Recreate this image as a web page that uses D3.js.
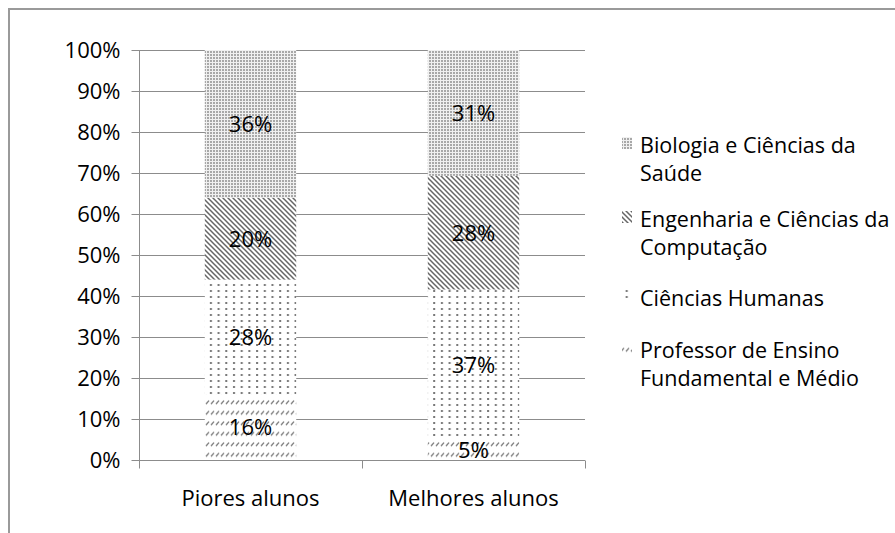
<!DOCTYPE html>
<html>
<head>
<meta charset="utf-8">
<script src="https://cdn.jsdelivr.net/npm/d3@7"></script>
<style>
  body { margin: 0; background: #fff; }
  text { font-family: "Open Sans", sans-serif; fill: #000; }
</style>
</head>
<body>
<div id="chart"></div>
<script>
var categories = ['Piores alunos', 'Melhores alunos'];
var series = ['Professor de Ensino Fundamental e Médio', 'Ciências Humanas',
              'Engenharia e Ciências da Computação', 'Biologia e Ciências da Saúde'];
var profValues = [16, 5];
var humanasValues = [28, 37];
var engValues = [20, 28];
var bioValues = [36, 31];
var yTicks = [0, 0.1, 0.2, 0.3, 0.4, 0.5, 0.6, 0.7, 0.8, 0.9, 1];

var legendLines = [
    ['Biologia e Ciências da', 'Saúde'],
    ['Engenharia e Ciências da', 'Computação'],
    ['Ciências Humanas'],
    ['Professor de Ensino', 'Fundamental e Médio']
];

var width = 895, height = 533;
var plot = { left: 139, right: 585, top: 50, bottom: 460 };

var svg = d3.select('#chart').append('svg')
    .attr('width', width)
    .attr('height', height);

// patterns
var defs = svg.append('defs');

var pBio = defs.append('pattern').attr('id', 'pat_bio')
    .attr('patternUnits', 'userSpaceOnUse').attr('width', 3).attr('height', 3);
pBio.append('rect').attr('width', 3).attr('height', 3).attr('fill', '#f0f0f0');
pBio.append('rect').attr('width', 2).attr('height', 2).attr('fill', '#a8a8a8');

var pEng = defs.append('pattern').attr('id', 'pat_eng')
    .attr('patternUnits', 'userSpaceOnUse').attr('width', 5).attr('height', 5);
pEng.append('rect').attr('width', 5).attr('height', 5).attr('fill', '#fff');
pEng.append('path').attr('d', 'M-1,-1 L6,6 M-1,4 L1,6 M4,-1 L6,1')
    .attr('stroke', '#666').attr('stroke-width', 1.5);

var pHum = defs.append('pattern').attr('id', 'pat_hum')
    .attr('patternUnits', 'userSpaceOnUse').attr('width', 7.7).attr('height', 6);
pHum.append('rect').attr('width', 7.7).attr('height', 6).attr('fill', '#fff');
pHum.append('rect').attr('x', 2).attr('y', 2).attr('width', 2).attr('height', 2).attr('fill', '#777');

var pProf = defs.append('pattern').attr('id', 'pat_prof')
    .attr('patternUnits', 'userSpaceOnUse').attr('width', 5).attr('height', 10.5);
pProf.append('rect').attr('width', 5).attr('height', 10.5).attr('fill', '#fff');
pProf.append('path').attr('d', 'M1,5 L4,1.5')
    .attr('stroke', '#777').attr('stroke-width', 1.3);

var fills = ['url(#pat_prof)', 'url(#pat_hum)', 'url(#pat_eng)', 'url(#pat_bio)'];

// outer frame (cut off at right/bottom)
svg.append('rect')
    .attr('x', 9).attr('y', 9)
    .attr('width', 1000).attr('height', 1000)
    .attr('fill', 'none').attr('stroke', '#9a9a9a').attr('stroke-width', 2);

var x = d3.scaleBand().domain(categories).range([plot.left, plot.right]).paddingInner(0.59).paddingOuter(0.295);
var y = d3.scaleLinear().domain([0, 1]).range([plot.bottom, plot.top]);

// gridlines
svg.append('g').selectAll('line').data(yTicks.slice(1)).enter().append('line')
    .attr('x1', plot.left).attr('x2', plot.right)
    .attr('y1', function(d) { return Math.round(y(d)) + 0.5; })
    .attr('y2', function(d) { return Math.round(y(d)) + 0.5; })
    .attr('stroke', '#8c8c8c').attr('stroke-width', 1);

// stacked data
var rows = categories.map(function(c, i) {
    var vals = [profValues[i], humanasValues[i], engValues[i], bioValues[i]];
    var total = d3.sum(vals);
    var row = { cat: c };
    vals.forEach(function(v, j) { row['s' + j] = v / total; row['v' + j] = v; });
    return row;
});
var stack = d3.stack().keys(['s0', 's1', 's2', 's3']);
var layers = stack(rows);

var layerG = svg.append('g').selectAll('g').data(layers).enter().append('g')
    .attr('fill', function(d, i) { return fills[i]; });

layerG.selectAll('rect').data(function(d) { return d; }).enter().append('rect')
    .attr('x', function(d) { return x(d.data.cat); })
    .attr('width', x.bandwidth())
    .attr('y', function(d) { return y(d[1]); })
    .attr('height', function(d) { return y(d[0]) - y(d[1]); });

// value labels
layers.forEach(function(layer, i) {
    svg.append('g').selectAll('text').data(layer).enter().append('text')
        .attr('x', function(d) { return x(d.data.cat) + x.bandwidth() / 2; })
        .attr('y', function(d) { return (y(d[0]) + y(d[1])) / 2; })
        .attr('dy', '0.36em')
        .attr('text-anchor', 'middle')
        .style('font-size', '22px')
        .text(function(d) { return d.data['v' + i] + '%'; });
});

// y axis
var yAxis = d3.axisLeft(y).tickValues(yTicks).tickFormat(d3.format('.0%')).tickSize(8).tickPadding(11);
var yg = svg.append('g').attr('transform', 'translate(' + (plot.left + 0.5) + ',0)').call(yAxis);
yg.selectAll('text').style('font-size', '22px').attr('dy', '0.36em').attr('fill', '#000');
yg.select('.domain').attr('stroke', '#8c8c8c').attr('d', 'M0,' + plot.top + 'V' + plot.bottom);
yg.selectAll('.tick line').attr('stroke', '#8c8c8c');
yg.selectAll('.tick').attr('transform', function(d) { return 'translate(0,' + (Math.round(y(d)) + 0.5) + ')'; });

// x axis
var xg = svg.append('g').attr('transform', 'translate(0,' + (plot.bottom + 0.5) + ')');
xg.append('line').attr('x1', plot.left).attr('x2', plot.right).attr('stroke', '#8c8c8c');
var edges = [plot.left, (plot.left + plot.right) / 2, plot.right];
xg.selectAll('line.edge').data(edges).enter().append('line').attr('class', 'edge')
    .attr('x1', function(d) { return Math.round(d) + 0.5; })
    .attr('x2', function(d) { return Math.round(d) + 0.5; })
    .attr('y1', 0).attr('y2', 8).attr('stroke', '#8c8c8c');
xg.selectAll('text').data(categories).enter().append('text')
    .attr('x', function(d) { return x(d) + x.bandwidth() / 2; })
    .attr('y', 45)
    .attr('text-anchor', 'middle')
    .style('font-size', '22px')
    .text(function(d) { return d; });

// legend
var legendY = [145, 219, 298, 350];
var legendFills = [fills[3], fills[2], fills[1], fills[0]];
var lg = svg.append('g');
legendLines.forEach(function(lines, i) {
    lg.append('rect')
        .attr('x', 622).attr('y', legendY[i] - 8)
        .attr('width', 10).attr('height', 12)
        .attr('fill', legendFills[i]);
    var t = lg.append('text')
        .attr('x', 640).attr('y', legendY[i])
        .style('font-size', '21.5px');
    lines.forEach(function(l, k) {
        t.append('tspan').attr('x', 640).attr('dy', k === 0 ? '0.36em' : 28).text(l);
    });
});
</script>
</body>
</html>
